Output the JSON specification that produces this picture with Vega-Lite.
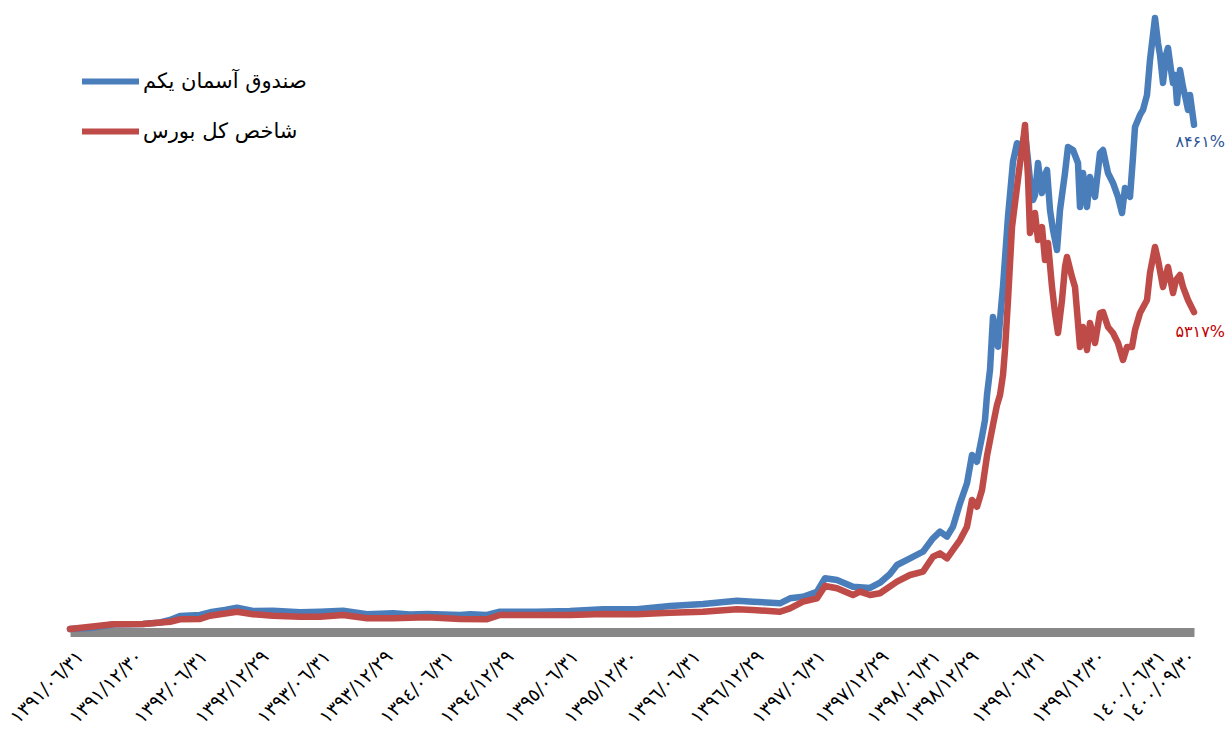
{
  "$schema": "https://vega.github.io/schema/vega-lite/v6.json",
  "autosize": {"type": "none"},
  "width": 1124,
  "height": 596,
  "padding": {"left": 70, "top": 33, "right": 33, "bottom": 106},
  "background": "white",
  "config": {"view": {"stroke": null}, "font": "DejaVu Sans"},
  "datasets": {
    "fund": [
      {"d":0,"v":0},{"d":40,"v":17},{"d":86,"v":75},{"d":146,"v":84},{"d":180,"v":109},{"d":200,"v":151},{"d":220,"v":218},{"d":260,"v":235},{"d":280,"v":280},{"d":310,"v":319},{"d":334,"v":357},{"d":366,"v":302},{"d":406,"v":307},{"d":460,"v":280},{"d":500,"v":290},{"d":546,"v":307},{"d":594,"v":247},{"d":646,"v":263},{"d":680,"v":243},{"d":714,"v":252},{"d":780,"v":235},{"d":800,"v":247},{"d":834,"v":235},{"d":860,"v":290},{"d":934,"v":290},{"d":1000,"v":302},{"d":1066,"v":331},{"d":1134,"v":331},{"d":1200,"v":386},{"d":1266,"v":420},{"d":1334,"v":475},{"d":1366,"v":458},{"d":1420,"v":431},{"d":1440,"v":515},{"d":1466,"v":542},{"d":1494,"v":626},{"d":1510,"v":851},{"d":1534,"v":822},{"d":1566,"v":710},{"d":1600,"v":688},{"d":1620,"v":777},{"d":1640,"v":923},{"d":1654,"v":1074},{"d":1680,"v":1186},{"d":1706,"v":1297},{"d":1726,"v":1522},{"d":1740,"v":1634},{"d":1754,"v":1549},{"d":1766,"v":1717},{"d":1780,"v":2109},{"d":1794,"v":2445},{"d":1804,"v":2920},{"d":1814,"v":2807},{"d":1824,"v":3227},{"d":1830,"v":3507},{"d":1834,"v":3926},{"d":1840,"v":4346},{"d":1846,"v":5235},{"d":1852,"v":4933},{"d":1856,"v":4737},{"d":1860,"v":5185},{"d":1866,"v":5744},{"d":1876,"v":6918},{"d":1886,"v":7841},{"d":1894,"v":8150},{"d":1900,"v":7987},{"d":1910,"v":8322},{"d":1916,"v":7869},{"d":1920,"v":7534},{"d":1926,"v":7198},{"d":1930,"v":7282},{"d":1936,"v":7819},{"d":1944,"v":7316},{"d":1950,"v":7618},{"d":1954,"v":7702},{"d":1960,"v":7031},{"d":1966,"v":6695},{"d":1974,"v":6359},{"d":1980,"v":7031},{"d":1990,"v":7652},{"d":1996,"v":8088},{"d":2006,"v":8037},{"d":2016,"v":7819},{"d":2020,"v":7081},{"d":2026,"v":7652},{"d":2034,"v":7081},{"d":2040,"v":7584},{"d":2050,"v":7249},{"d":2060,"v":7987},{"d":2066,"v":8037},{"d":2076,"v":7652},{"d":2086,"v":7484},{"d":2096,"v":7249},{"d":2104,"v":6980},{"d":2110,"v":7400},{"d":2120,"v":7249},{"d":2126,"v":7920},{"d":2130,"v":8423},{"d":2140,"v":8625},{"d":2146,"v":8709},{"d":2154,"v":8960},{"d":2160,"v":9547},{"d":2166,"v":9967},{"d":2170,"v":10252},{"d":2176,"v":9833},{"d":2180,"v":9631},{"d":2186,"v":9161},{"d":2192,"v":9631},{"d":2196,"v":9749},{"d":2202,"v":9380},{"d":2206,"v":9161},{"d":2210,"v":9296},{"d":2214,"v":8826},{"d":2220,"v":9380},{"d":2226,"v":9094},{"d":2232,"v":8876},{"d":2236,"v":8709},{"d":2240,"v":8960},{"d":2248,"v":8461}
    ],
    "index": [
      {"d":0,"v":0},{"d":86,"v":79},{"d":146,"v":84},{"d":200,"v":122},{"d":220,"v":163},{"d":260,"v":168},{"d":280,"v":223},{"d":334,"v":290},{"d":366,"v":247},{"d":406,"v":223},{"d":460,"v":206},{"d":500,"v":206},{"d":546,"v":235},{"d":594,"v":180},{"d":646,"v":180},{"d":714,"v":196},{"d":780,"v":168},{"d":834,"v":163},{"d":860,"v":235},{"d":934,"v":235},{"d":1000,"v":235},{"d":1066,"v":252},{"d":1134,"v":247},{"d":1200,"v":274},{"d":1266,"v":290},{"d":1334,"v":331},{"d":1366,"v":319},{"d":1420,"v":290},{"d":1440,"v":347},{"d":1466,"v":458},{"d":1494,"v":515},{"d":1510,"v":721},{"d":1534,"v":683},{"d":1566,"v":570},{"d":1580,"v":626},{"d":1600,"v":570},{"d":1620,"v":599},{"d":1654,"v":794},{"d":1680,"v":906},{"d":1706,"v":962},{"d":1726,"v":1213},{"d":1740,"v":1270},{"d":1754,"v":1186},{"d":1766,"v":1326},{"d":1780,"v":1493},{"d":1794,"v":1717},{"d":1804,"v":2165},{"d":1814,"v":2052},{"d":1824,"v":2332},{"d":1834,"v":2903},{"d":1846,"v":3423},{"d":1854,"v":3759},{"d":1860,"v":3926},{"d":1866,"v":4262},{"d":1870,"v":4681},{"d":1876,"v":5520},{"d":1884,"v":6745},{"d":1894,"v":7416},{"d":1900,"v":7819},{"d":1906,"v":8155},{"d":1910,"v":8457},{"d":1916,"v":7584},{"d":1920,"v":6645},{"d":1926,"v":6863},{"d":1930,"v":6980},{"d":1936,"v":6527},{"d":1944,"v":6745},{"d":1950,"v":6192},{"d":1956,"v":6477},{"d":1964,"v":5739},{"d":1970,"v":5302},{"d":1976,"v":4967},{"d":1984,"v":5520},{"d":1990,"v":6074},{"d":1994,"v":6242},{"d":2004,"v":5906},{"d":2010,"v":5739},{"d":2020,"v":4732},{"d":2026,"v":5067},{"d":2034,"v":4681},{"d":2040,"v":5135},{"d":2050,"v":4799},{"d":2060,"v":5302},{"d":2066,"v":5319},{"d":2076,"v":5067},{"d":2086,"v":4967},{"d":2096,"v":4799},{"d":2106,"v":4514},{"d":2114,"v":4732},{"d":2124,"v":4732},{"d":2130,"v":5017},{"d":2140,"v":5302},{"d":2154,"v":5520},{"d":2160,"v":5974},{"d":2170,"v":6410},{"d":2176,"v":6192},{"d":2186,"v":5739},{"d":2196,"v":6074},{"d":2206,"v":5638},{"d":2212,"v":5856},{"d":2220,"v":5940},{"d":2226,"v":5739},{"d":2236,"v":5520},{"d":2248,"v":5317}
    ],
    "endFund": [{"d":2248,"v":8461,"t":"۸۴۶۱%"}],
    "endIndex": [{"d":2248,"v":5317,"t":"۵۳۱۷%"}]
  },
  "encoding": {
    "x": {
      "field": "d", "type": "quantitative",
      "scale": {"domain": [0, 2248], "nice": false, "zero": false},
      "axis": {
        "title": null, "grid": false, "ticks": false,
        "domainColor": "#888888", "domainWidth": 9, "offset": 3,
        "values": [20,138,268,390,514,638,760,880,1010,1128,1254,1380,1504,1630,1734,1810,1944,2064,2184,2244],
        "labelExpr": "['١٣٩١/٠٦/٣١','١٣٩١/١٢/٣٠','١٣٩٢/٠٦/٣١','١٣٩٢/١٢/٢٩','١٣٩٣/٠٦/٣١','١٣٩٣/١٢/٢٩','١٣٩٤/٠٦/٣١','١٣٩٤/١٢/٢٩','١٣٩٥/٠٦/٣١','١٣٩٥/١٢/٣٠','١٣٩٦/٠٦/٣١','١٣٩٦/١٢/٢٩','١٣٩٧/٠٦/٣١','١٣٩٧/١٢/٢٩','١٣٩٨/٠٦/٣١','١٣٩٨/١٢/٢٩','١٣٩٩/٠٦/٣١','١٣٩٩/١٢/٣٠','١٤٠٠/٠٦/٣١','١٤٠٠/٠٩/٣٠'][indexof([20,138,268,390,514,638,760,880,1010,1128,1254,1380,1504,1630,1734,1810,1944,2064,2184,2244], datum.value)]",
        "labelAngle": -45, "labelAlign": "right", "labelBaseline": "middle",
        "labelFontSize": 19, "labelColor": "#000000", "labelPadding": 21,
        "labelOverlap": false, "labelBound": false, "labelFlush": false
      }
    },
    "y": {
      "field": "v", "type": "quantitative",
      "scale": {"domain": [0, 10000], "nice": false},
      "axis": null
    }
  },
  "layer": [
    {
      "data": {"name": "fund"},
      "mark": {"type": "line", "strokeWidth": 6.5, "strokeJoin": "round", "strokeCap": "round", "clip": false},
      "encoding": {
        "color": {
          "datum": "صندوق آسمان یکم",
          "scale": {"domain": ["صندوق آسمان یکم", "شاخص کل بورس"], "range": ["#4A7EBB", "#BE4B48"]},
          "legend": {
            "title": null, "orient": "none", "legendX": 9, "legendY": 17,
            "symbolType": "stroke", "symbolSize": 3249, "symbolStrokeWidth": 6,
            "labelFontSize": 21, "labelFont": "DejaVu Sans", "labelColor": "#000000",
            "labelOffset": 1, "rowPadding": 6, "labelLimit": 400
          }
        }
      }
    },
    {
      "data": {"name": "index"},
      "mark": {"type": "line", "strokeWidth": 6.5, "strokeJoin": "round", "strokeCap": "round", "clip": false},
      "encoding": {"color": {"datum": "شاخص کل بورس"}}
    },
    {
      "data": {"name": "endFund"},
      "mark": {"type": "text", "align": "right", "baseline": "middle", "dx": 31, "dy": 17, "fontSize": 16, "color": "#2F5597", "font": "DejaVu Sans"},
      "encoding": {"text": {"field": "t"}}
    },
    {
      "data": {"name": "endIndex"},
      "mark": {"type": "text", "align": "right", "baseline": "middle", "dx": 31, "dy": 20, "fontSize": 16, "color": "#C00000", "font": "DejaVu Sans"},
      "encoding": {"text": {"field": "t"}}
    }
  ]
}
